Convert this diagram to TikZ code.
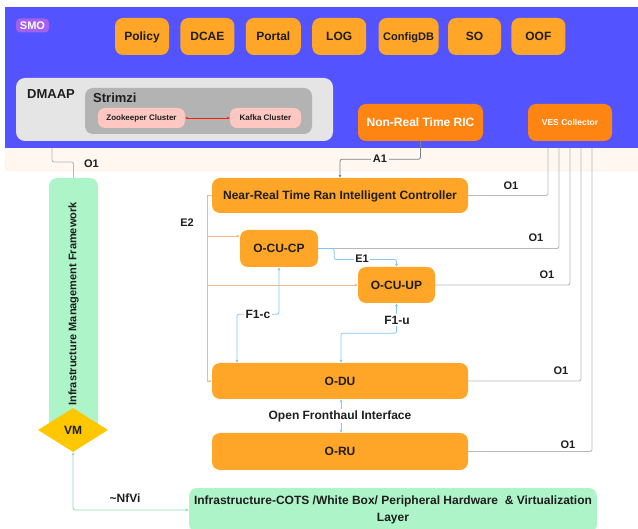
\documentclass[tikz,border=0pt]{standalone}
\usepackage{fontspec}
\setmainfont{Liberation Sans}
\usetikzlibrary{shapes.geometric, arrows.meta, positioning}

\definecolor{smoblue}{HTML}{5353FF}
\definecolor{smocream}{HTML}{FFF7F0}
\definecolor{creamedge}{HTML}{FFE3C7}
\definecolor{smopurple}{HTML}{A45EF0}
\definecolor{boxorange}{HTML}{FFA629}
\definecolor{ricorange}{HTML}{FF8513}
\definecolor{dmaapgrey}{HTML}{E5E5E5}
\definecolor{strimzigrey}{HTML}{B3B3B3}
\definecolor{clusterpink}{HTML}{FFC7C2}
\definecolor{imfgreen}{HTML}{AEF4C9}
\definecolor{vmyellow}{HTML}{FFC700}
\definecolor{f1blue}{HTML}{85C6F5}
\definecolor{e2orange}{HTML}{F7B98A}
\definecolor{o1grey}{HTML}{B8B8B8}
\definecolor{a1grey}{HTML}{808080}
\definecolor{nfvgreen}{HTML}{8EDBB0}
\definecolor{textdark}{HTML}{1E1E1E}

\tikzstyle{block} = [rectangle, fill=boxorange, text=textdark, font=\bfseries\fontsize{12}{14}\selectfont, rounded corners=8pt, minimum height=37pt, inner sep=0pt, text height=8.6pt, text depth=0pt]
\tikzstyle{ricblock} = [block, fill=ricorange, text=white]
\tikzstyle{cluster} = [rectangle, fill=clusterpink, text=textdark, font=\bfseries\fontsize{8}{10}\selectfont, rounded corners=7pt, minimum height=20pt, inner sep=0pt]
\tikzstyle{lbl} = [text=textdark, font=\bfseries\fontsize{11}{13}\selectfont, inner sep=1.5pt]
\tikzstyle{biglbl} = [lbl, font=\bfseries\fontsize{12}{14}\selectfont]
\tikzstyle{line} = [draw, line width=0.8pt, -{Latex[length=3pt,width=3pt]}]
\tikzstyle{oline} = [draw, line width=0.9pt, o1grey, rounded corners=2pt]
\tikzstyle{aline} = [line, a1grey, rounded corners=2pt]
\tikzstyle{bline} = [line, f1blue, rounded corners=2pt]
\tikzstyle{eline} = [line, e2orange]
\tikzstyle{gline} = [line, nfvgreen, rounded corners=2pt]

\begin{document}
\begin{tikzpicture}[x=1pt, y=-1pt]
	\useasboundingbox (0,0) rectangle (638,529);

	% SMO frame
	\fill[smocream, draw=creamedge, rounded corners=6pt] (5,7) rectangle (650,171);
	\fill[smoblue] (5,7) rectangle (650,148);
	\node[fill=smopurple, text=white, rounded corners=4pt, font=\bfseries\fontsize{11}{13}\selectfont, minimum width=33pt, minimum height=14pt, inner sep=0pt] (smo) at (32.5,25.5) {SMO};

	\node[block, minimum width=54pt] (policy) at (142,36.5) {Policy};
	\node[block, minimum width=54pt, right=11pt of policy] (dcae) {DCAE};
	\node[block, minimum width=55pt, right=11pt of dcae] (portal) {Portal};
	\node[block, minimum width=54pt, right=11pt of portal] (log) {LOG};
	\node[block, minimum width=60pt, right=12pt of log, font=\bfseries\fontsize{11}{13}\selectfont] (configdb) {ConfigDB};
	\node[block, minimum width=53pt, right=9pt of configdb] (so) {SO};
	\node[block, minimum width=54pt, right=10pt of so] (oof) {OOF};

	% DMAAP
	\node[fill=dmaapgrey, rounded corners=9pt, minimum width=317pt, minimum height=63pt, inner sep=0pt] (dmaap) at (174.5,109.5) {};
	\node[text=textdark, font=\bfseries\fontsize{13}{15}\selectfont, anchor=base west, inner sep=0pt] (dmaaplabel) at (27,99) {DMAAP};
	\node[fill=strimzigrey, rounded corners=8pt, minimum width=227pt, minimum height=46pt, inner sep=0pt] (strimzi) at (198.5,111) {};
	\node[text=textdark, font=\bfseries\fontsize{13}{15}\selectfont, anchor=base west, inner sep=0pt] (strimzilabel) at (93,103) {Strimzi};
	\node[cluster, minimum width=87pt] (zookeeper) at (141.5,118) {Zookeeper Cluster};
	\node[cluster, minimum width=71pt] (kafka) at (265.5,118) {Kafka Cluster};
	\draw[red!75!orange, line width=0.5pt, {Latex[length=2.5pt,width=2.5pt]}-{Latex[length=2.5pt,width=2.5pt]}] (zookeeper) -- (kafka);

	\node[ricblock, minimum width=125pt] (nonrtric) at (420.5,122.5) {Non-Real Time RIC};
	\node[ricblock, minimum width=84pt, font=\bfseries\fontsize{8.5}{10}\selectfont, text height=6.2pt] (ves) at (570,122.5) {VES Collector};

	% RAN side
	\node[block, minimum width=256pt, minimum height=35pt] (nearrtric) at (340,195.5) {Near-Real Time Ran Intelligent Controller};
	\node[block, minimum width=78pt] (ocucp) at (279,248.5) {O-CU-CP};
	\node[block, minimum width=77pt, minimum height=36pt] (ocuup) at (396.5,285) {O-CU-UP};
	\node[block, minimum width=256pt, minimum height=36pt] (odu) at (340,381) {O-DU};
	\node[block, minimum width=256pt] (oru) at (340,451.5) {O-RU};

	% infrastructure
	\node[fill=imfgreen, rounded corners=8pt, rotate=90, minimum width=252pt, minimum height=49pt, inner sep=0pt, text=textdark, font=\bfseries\fontsize{11}{13}\selectfont] (imf) at (73.5,304) {Infrastructure Management Framework};
	\node[diamond, fill=vmyellow, minimum width=70pt, minimum height=44pt, inner sep=0pt, text=textdark, font=\bfseries\fontsize{12}{14}\selectfont] (vm) at (73,430) {VM};
	\node[fill=imfgreen, rounded corners=8pt, minimum width=408pt, minimum height=44pt, inner sep=0pt, align=center, text=textdark, font=\bfseries\fontsize{12}{17}\selectfont] (infra) at (393,510) {Infrastructure-COTS /White Box/ Peripheral Hardware \ \& Virtualization\\Layer};

	\coordinate (dmaapout) at (52,148);
	\coordinate (vesa) at (548,148);
	\coordinate (vesb) at (559,148);
	\coordinate (vesc) at (570,148);
	\coordinate (vesd) at (581,148);
	\coordinate (vese) at (592,148);
	\coordinate (e2top) at ([xshift=-4pt]nearrtric.west);

	% O1
	\path [oline] (dmaapout) -- ++(0,14) -| (imf.east);
	\path [oline] (vesa) |- (nearrtric.east);
	\path [oline] (vesb) |- (ocucp.east);
	\path [oline] (vesc) |- (ocuup.east);
	\path [oline] (vesd) |- (odu.east);
	\path [oline] (vese) |- (oru.east);

	% A1
	\path [aline] (nonrtric.south) -- ++(0,18) -| (nearrtric.north);

	% E2
	\path [eline] (nearrtric.west) -- (e2top) |- (odu.west);
	\path [eline] (e2top) |- ([yshift=12.5pt]ocucp.west);
	\path [eline] (e2top) |- (ocuup.west);

	% E1, F1, fronthaul
	\path [bline] (ocucp.east) -- ++(16,0) -- ++(0,11) -| (ocuup.north);
	\path [bline, {Latex[length=3pt,width=3pt]}-{Latex[length=3pt,width=3pt]}] (ocucp.south) -- ++(0,47) -| ([xshift=-103pt]odu.north);
	\path [bline, {Latex[length=3pt,width=3pt]}-{Latex[length=3pt,width=3pt]}] (ocuup.south) -- ++(0,30) -| ([xshift=1pt]odu.north);
	\path [bline, {Latex[length=3pt,width=3pt]}-{Latex[length=3pt,width=3pt]}] ([xshift=1pt]odu.south) -- ([xshift=1pt]oru.north);

	% ~NfVi
	\path [gline, {Latex[length=3pt,width=3pt]}-{Latex[length=3pt,width=3pt]}] (vm.south) |- (infra.west);

	% labels
	\node[lbl] (o1dmaap) at (91.5,164) {O1};
	\node[lbl, fill=smocream] (a1) at (380,159) {A1};
	\node[lbl] (o1ric) at (511,186) {O1};
	\node[lbl] (o1cp) at (536,238) {O1};
	\node[lbl] (o1up) at (547,275) {O1};
	\node[lbl] (o1du) at (561,371) {O1};
	\node[lbl] (o1ru) at (568,445) {O1};
	\node[lbl] (e2) at (187,223) {E2};
	\node[lbl, fill=white] (e1) at (362,259) {E1};
	\node[biglbl, fill=white] (f1c) at (258,314) {F1-c};
	\node[biglbl, fill=white] (f1u) at (397,320) {F1-u};
	\node[biglbl, fill=white] (ofh) at (340,416) {Open Fronthaul Interface};
	\node[biglbl] (nfvi) at (125,498) {\textasciitilde NfVi};
\end{tikzpicture}
\end{document}
